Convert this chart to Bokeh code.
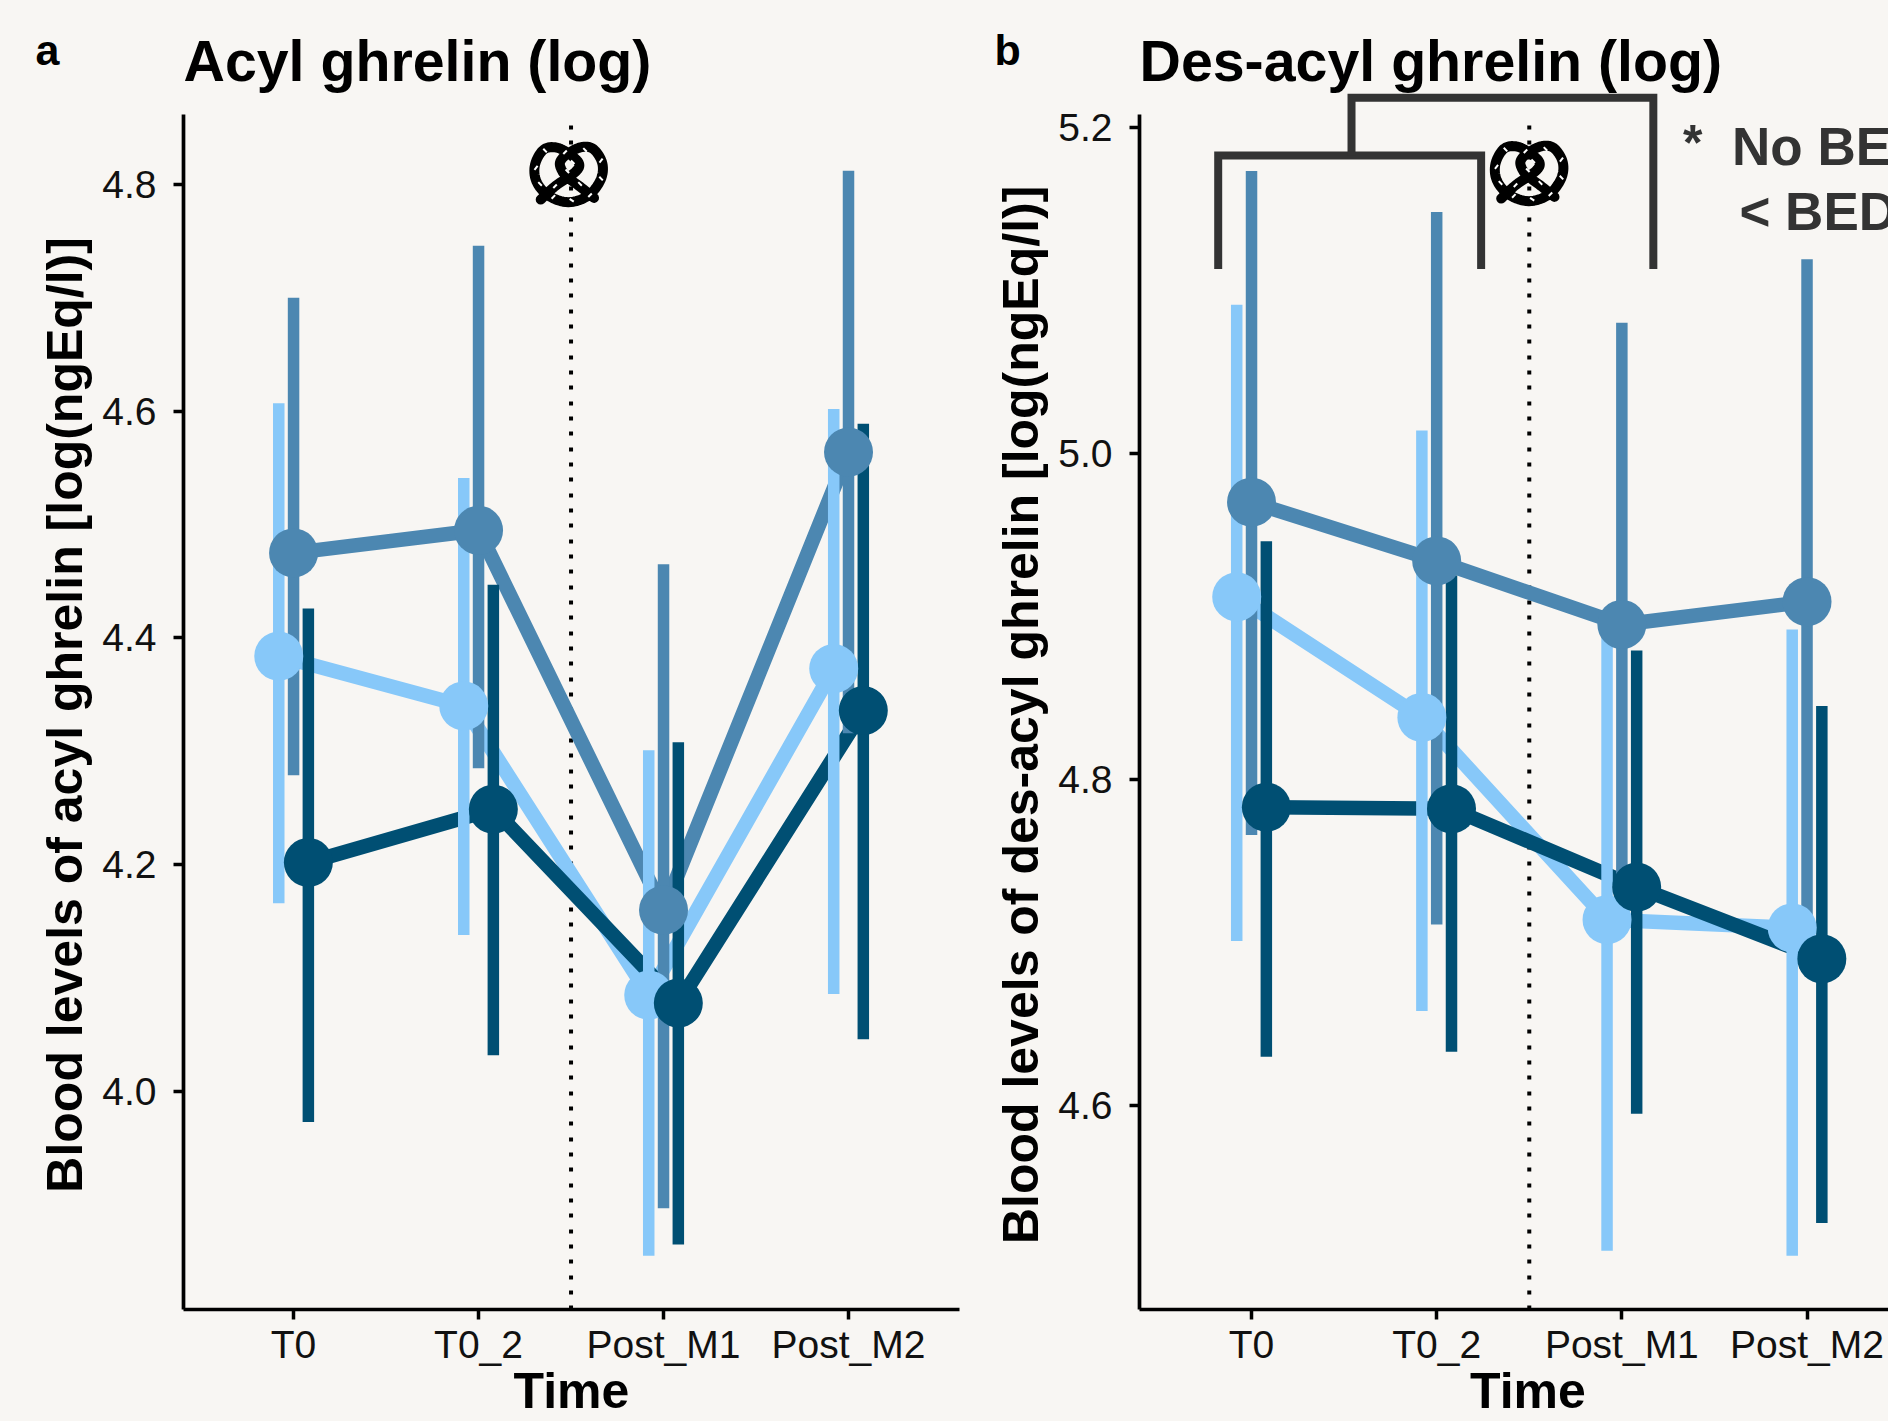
from bokeh.plotting import figure
from bokeh.layouts import row
from bokeh.models import FixedTicker, Range1d, Title
from bokeh.core.properties import value
from bokeh.embed import file_html
from bokeh.resources import INLINE

BG = "#F8F6F3"
LIGHT, MID, DARK = "#87C8F9", "#4C87B1", "#004F73"
FONT = "Liberation Sans"
NB = "\u00a0"

times = ["T0", "T0_2", "Post_M1", "Post_M2"]
time_x = [1, 2, 3, 4]
dodge = {"light": -0.08, "mid": 0.0, "dark": 0.08}

a_light = [4.384, 4.340, 4.085, 4.373]
a_light_hi = [4.607, 4.541, 4.301, 4.602]
a_light_lo = [4.166, 4.138, 3.855, 4.086]
a_mid = [4.475, 4.495, 4.160, 4.564]
a_mid_hi = [4.700, 4.746, 4.465, 4.812]
a_mid_lo = [4.279, 4.285, 3.897, 4.316]
a_dark = [4.202, 4.249, 4.078, 4.336]
a_dark_hi = [4.426, 4.447, 4.308, 4.589]
a_dark_lo = [3.973, 4.032, 3.865, 4.046]

b_light = [4.912, 4.838, 4.714, 4.709]
b_light_hi = [5.091, 5.014, 4.890, 4.892]
b_light_lo = [4.701, 4.658, 4.511, 4.508]
b_mid = [4.970, 4.934, 4.895, 4.909]
b_mid_hi = [5.173, 5.148, 5.080, 5.119]
b_mid_lo = [4.766, 4.711, 4.710, 4.700]
b_dark = [4.783, 4.782, 4.734, 4.690]
b_dark_hi = [4.946, 4.925, 4.879, 4.845]
b_dark_lo = [4.630, 4.633, 4.595, 4.528]

a_yticks = [4.0, 4.2, 4.4, 4.6, 4.8]
b_yticks = [4.6, 4.8, 5.0, 5.2]

# significance bracket of panel b
br_low_x = [0.82, 0.82, 2.24, 2.24]
br_low_y = [5.113, 5.1825, 5.1825, 5.113]
br_up_x = [1.54, 1.54, 3.17, 3.17]
br_up_y = [5.1825, 5.218, 5.218, 5.113]

# pretzel decoration: offsets (3x pixels) from the point (138, 114)
PC = (138, 114)
pretzel_path = [(47, 190), (90, 150), (150, 108), (162, 82), (135, 55), (95, 34), (56, 40), (30, 85), (34, 135), (70, 178),
                (130, 198), (190, 178), (227, 130), (232, 82), (207, 40), (172, 32), (128, 52), (105, 78), (112, 105),
                (130, 125), (170, 155), (207, 185)]
sprinkles = [(60, 43, -0.8), (120, 48, 0.8), (180, 41, -0.8), (228, 73, 0.9), (33, 95, 0.9), (143, 78, -0.8), (127, 105, -0.8),
             (45, 143, -0.8), (90, 150, 0.8), (165, 143, -0.8), (228, 127, -0.8), (85, 182, 0.8), (140, 192, -0.6), (195, 177, 0.8)]


def smooth(pts, n=8):
    out = []
    P = [pts[0]] + pts + [pts[-1]]
    for i in range(1, len(P) - 2):
        p0, p1, p2, p3 = P[i - 1], P[i], P[i + 1], P[i + 2]
        for k in range(n):
            t = k / n
            out.append(tuple(0.5 * (2 * p1[j] + (p2[j] - p0[j]) * t + (2 * p0[j] - 5 * p1[j] + 4 * p2[j] - p3[j]) * t * t
                                    + (3 * p1[j] - p0[j] - 3 * p2[j] + p3[j]) * t ** 3) for j in (0, 1)))
    out.append(pts[-1])
    return out


def panel(tag, tag_offset, title, ylabel, xlabel, yticks, xr, yr, ytop, sers, width, left, right, pxx, pxy, pret_x, pret_y):
    p = figure(width=width, height=1421, x_range=Range1d(*xr), y_range=Range1d(*yr),
               output_backend="svg", toolbar_location=None,
               min_border_left=left, min_border_right=right, min_border_top=92, min_border_bottom=112,
               background_fill_color=BG, border_fill_color=BG, outline_line_color=None)
    p.grid.visible = False
    p.add_layout(Title(text=title, text_font=FONT, text_font_size="57.3px", text_font_style="bold", text_color="black",
                       align="left", standoff=0, offset=0), "above")
    p.add_layout(Title(text=tag, text_font=FONT, text_font_size="43px", text_font_style="bold", text_color="black",
                       align="left", standoff=-94, offset=tag_offset), "above")
    for ax in (p.xaxis[0], p.yaxis[0]):
        ax.axis_line_width = 3.7
        ax.axis_line_color = "black"
        ax.major_tick_line_width = 3.5
        ax.major_tick_line_color = "black"
        ax.major_tick_out = 10
        ax.major_tick_in = 0
        ax.minor_tick_line_color = None
        ax.major_label_text_font = FONT
        ax.major_label_text_font_size = "39px"
        ax.major_label_text_color = "#111111"
        ax.axis_label_text_font = FONT
        ax.axis_label_text_font_size = "50px"
        ax.axis_label_text_font_style = "bold"
        ax.axis_label_text_color = "black"
    p.xaxis[0].ticker = FixedTicker(ticks=time_x)
    p.xaxis[0].major_label_overrides = dict(zip(time_x, times))
    p.xaxis[0].axis_label = xlabel
    p.xaxis[0].major_label_standoff = 3
    p.xaxis[0].axis_label_standoff = -6
    p.yaxis[0].ticker = FixedTicker(ticks=yticks)
    p.yaxis[0].bounds = (yr[0], ytop)
    p.yaxis[0].major_label_overrides = {t: f"{t:.1f}" for t in yticks}
    p.yaxis[0].axis_label = ylabel
    p.yaxis[0].major_label_standoff = 17
    p.yaxis[0].axis_label_standoff = 6

    # dotted separator between baseline and post-meal
    p.line([2.5, 2.5], [yr[0], ytop], line_color="black", line_width=4, line_dash="4 11 4 11 4 12")

    for (name, color, m, hi, lo) in sers:
        xs = [t + dodge[name] for t in time_x]
        p.line(xs, m, line_color=color, line_width=14.5, line_join="round")
    for (name, color, m, hi, lo) in sers:
        xs = [t + dodge[name] for t in time_x]
        p.segment(xs, lo, xs, hi, line_color=color, line_width=11.5)
    for (name, color, m, hi, lo) in sers:
        xs = [t + dodge[name] for t in time_x]
        p.scatter(xs, m, size=49, fill_color=color, line_color=None)

    # pretzel
    path = smooth(pretzel_path)
    p.line([pret_x + (d[0] - PC[0]) / 3 / pxx for d in path], [pret_y - (d[1] - PC[1]) / 3 / pxy for d in path],
           line_color="black", line_width=10, line_cap="round", line_join="round")
    p.scatter([pret_x + (s[0] - PC[0]) / 3 / pxx for s in sprinkles], [pret_y - (s[1] - PC[1]) / 3 / pxy for s in sprinkles],
              marker="dash", size=5, line_color="white", line_width=2, angle=[s[2] for s in sprinkles])
    return p


p1 = panel("a", -148, "Acyl ghrelin (log)", "Blood levels of acyl ghrelin [log(ngEq/l)]" + NB * 2, "Time", a_yticks,
           (0.405, 4.6), (3.8077, 4.8811), 4.8617,
           [("light", LIGHT, a_light, a_light_hi, a_light_lo), ("mid", MID, a_mid, a_mid_hi, a_mid_lo), ("dark", DARK, a_dark, a_dark_hi, a_dark_lo)],
           985, 183, 26, 185.0, 1133.75, 2.5, 4.809)
p2 = panel("b", -145, "Des-acyl ghrelin (log)", "Blood levels of des-acyl ghrelin [log(ngEq/l)]" + NB * 2, NB * 2 + "Time", b_yticks,
           (0.395, 4.44), (4.475, 5.2212), 5.2077,
           [("light", LIGHT, b_light, b_light_hi, b_light_lo), ("mid", MID, b_mid, b_mid_hi, b_mid_lo), ("dark", DARK, b_dark, b_dark_hi, b_dark_lo)],
           903, 154, 0, 185.2, 1631.0, 2.512, 5.1717)

p2.line(br_low_x, br_low_y, line_color="#333333", line_width=8, line_join="miter")
p2.line(br_up_x, br_up_y, line_color="#333333", line_width=8, line_join="miter")

p2.text([3.33], [5.1905], text=["*"], text_font=value(FONT), text_font_size="50px", text_font_style="bold",
        text_color="#333333", text_baseline="alphabetic")
p2.text([3.595, 3.635], [5.1878, 5.1480], text=["No BED", "< BED"], text_font=value(FONT), text_font_size="53px",
        text_font_style="bold", text_color="#333333", text_baseline="alphabetic")

layout = row(p1, p2, spacing=0)
html = file_html(layout, INLINE)
html = html.replace("<head>", "<head><style>html,body{background:" + BG + ";overflow:hidden}</style>", 1)
open("out.html", "w").write(html)
